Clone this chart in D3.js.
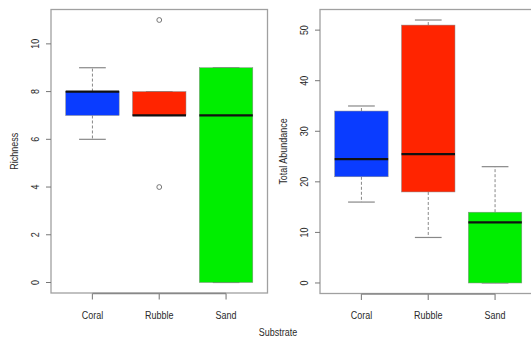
<!DOCTYPE html>
<html>
<head>
<meta charset="utf-8">
<script src="https://cdn.jsdelivr.net/npm/d3@7/dist/d3.min.js"></script>
<style>
  html, body { margin: 0; padding: 0; background: #fff; }
  svg { display: block; }
  text { font-family: "Liberation Sans", Arial, sans-serif; fill: #2a2a2a; }
</style>
</head>
<body>
<svg id="chart" width="531" height="337"></svg>
<script>
// Substrate groups
const categories = ["Coral", "Rubble", "Sand"];
const fills = ["#0a3cff", "#ff2400", "#00ee00"];

// Richness: whisker ends, quartiles, medians, outliers
const richLow    = [6, 7, 0];
const richQ1     = [7, 7, 0];
const richMedian = [8, 7, 7];
const richQ3     = [8, 8, 9];
const richHigh   = [9, 8, 9];
const richOut    = [[], [11, 4], []];
const richTicks  = [0, 2, 4, 6, 8, 10];

// Total abundance
const abunLow    = [16, 9, 0];
const abunQ1     = [21, 18, 0];
const abunMedian = [24.5, 25.5, 12];
const abunQ3     = [34, 51, 14];
const abunHigh   = [35, 52, 23];
const abunOut    = [[], [], []];
const abunTicks  = [0, 10, 20, 30, 40, 50];

const svg = d3.select("#chart");
const FS = 11.5, SX = 0.78;

function label(g, x, y, str, rot) {
  g.append("text")
    .attr("transform", `translate(${x},${y}) rotate(${rot || 0}) scale(${SX},1)`)
    .attr("text-anchor", "middle")
    .attr("font-size", FS)
    .text(str);
}

function panel(opts) {
  const g = svg.append("g");
  const x = d3.scaleLinear().domain([0.38, 3.62]).range([opts.left, opts.right]);
  const y = d3.scaleLinear().domain(opts.ydom).range([opts.bottom, opts.top]);
  const pos = categories.map((c, i) => i + 1);
  const bw = x(1.4) - x(1);   // half box width (boxwex 0.8)
  const sw = bw / 2;          // half staple width

  const stats = categories.map((c, i) => ({
    cat: c, p: pos[i], fill: fills[i],
    lo: opts.low[i], q1: opts.q1[i], med: opts.median[i],
    q3: opts.q3[i], hi: opts.high[i], out: opts.out[i]
  }));

  const bx = g.selectAll("g.box").data(stats).join("g").attr("class", "box");

  // whiskers (dashed)
  bx.append("line")
    .attr("x1", d => x(d.p)).attr("x2", d => x(d.p))
    .attr("y1", d => y(d.q3)).attr("y2", d => y(d.hi))
    .attr("stroke", "#888").attr("stroke-width", 1).attr("stroke-dasharray", "3,2");
  bx.append("line")
    .attr("x1", d => x(d.p)).attr("x2", d => x(d.p))
    .attr("y1", d => y(d.q1)).attr("y2", d => y(d.lo))
    .attr("stroke", "#888").attr("stroke-width", 1).attr("stroke-dasharray", "3,2");
  // staples
  ["hi", "lo"].forEach(k => {
    bx.append("line")
      .attr("x1", d => x(d.p) - sw).attr("x2", d => x(d.p) + sw)
      .attr("y1", d => y(d[k])).attr("y2", d => y(d[k]))
      .attr("stroke", "#888").attr("stroke-width", 1.2);
  });
  // boxes
  bx.append("rect")
    .attr("x", d => x(d.p) - bw).attr("width", 2 * bw)
    .attr("y", d => y(d.q3)).attr("height", d => Math.max(0.5, y(d.q1) - y(d.q3)))
    .attr("fill", d => d.fill).attr("stroke", "#888").attr("stroke-width", 0.5);
  // medians
  bx.append("line")
    .attr("x1", d => x(d.p) - bw).attr("x2", d => x(d.p) + bw)
    .attr("y1", d => y(d.med)).attr("y2", d => y(d.med))
    .attr("stroke", "#111").attr("stroke-width", 2.2);
  // outliers
  bx.selectAll("circle").data(d => d.out.map(v => ({p: d.p, v}))).join("circle")
    .attr("cx", d => x(d.p)).attr("cy", d => y(d.v)).attr("r", 2.4)
    .attr("fill", "none").attr("stroke", "#777").attr("stroke-width", 1);

  // frame
  g.append("rect")
    .attr("x", opts.left).attr("y", opts.top)
    .attr("width", opts.right - opts.left).attr("height", opts.bottom - opts.top)
    .attr("fill", "none").attr("stroke", "#a0a0a0").attr("stroke-width", 1.3);

  // y axis ticks and labels
  g.selectAll("line.yt").data(opts.ticks).join("line").attr("class", "yt")
    .attr("x1", opts.left - 5).attr("x2", opts.left)
    .attr("y1", d => y(d)).attr("y2", d => y(d))
    .attr("stroke", "#777").attr("stroke-width", 1);
  opts.ticks.forEach(t => label(g, opts.left - 12, y(t), t, -90));

  // x axis
  const by = opts.bottom + 0.5;
  g.append("line").attr("x1", x(1)).attr("x2", x(3)).attr("y1", by).attr("y2", by)
    .attr("stroke", "#888").attr("stroke-width", 1.3);
  g.selectAll("line.xt").data(pos).join("line").attr("class", "xt")
    .attr("x1", d => x(d)).attr("x2", d => x(d))
    .attr("y1", by).attr("y2", by + 6)
    .attr("stroke", "#888").attr("stroke-width", 1.2);
  categories.forEach((c, i) => label(g, x(pos[i]), 318.5, c, 0));

  // y title
  label(g, opts.titleX, (opts.top + opts.bottom) / 2, opts.title, -90);
}

panel({
  left: 51, right: 267.5, top: 9.5, bottom: 293,
  ydom: [-0.44, 11.44],
  low: richLow, q1: richQ1, median: richMedian, q3: richQ3, high: richHigh, out: richOut,
  ticks: richTicks, title: "Richness", titleX: 18
});

panel({
  left: 320, right: 536.5, top: 9.5, bottom: 293.5,
  ydom: [-2.08, 54.08],
  low: abunLow, q1: abunQ1, median: abunMedian, q3: abunQ3, high: abunHigh, out: abunOut,
  ticks: abunTicks, title: "Total Abundance", titleX: 287
});

label(svg, 278, 336, "Substrate", 0);
</script>
</body>
</html>
